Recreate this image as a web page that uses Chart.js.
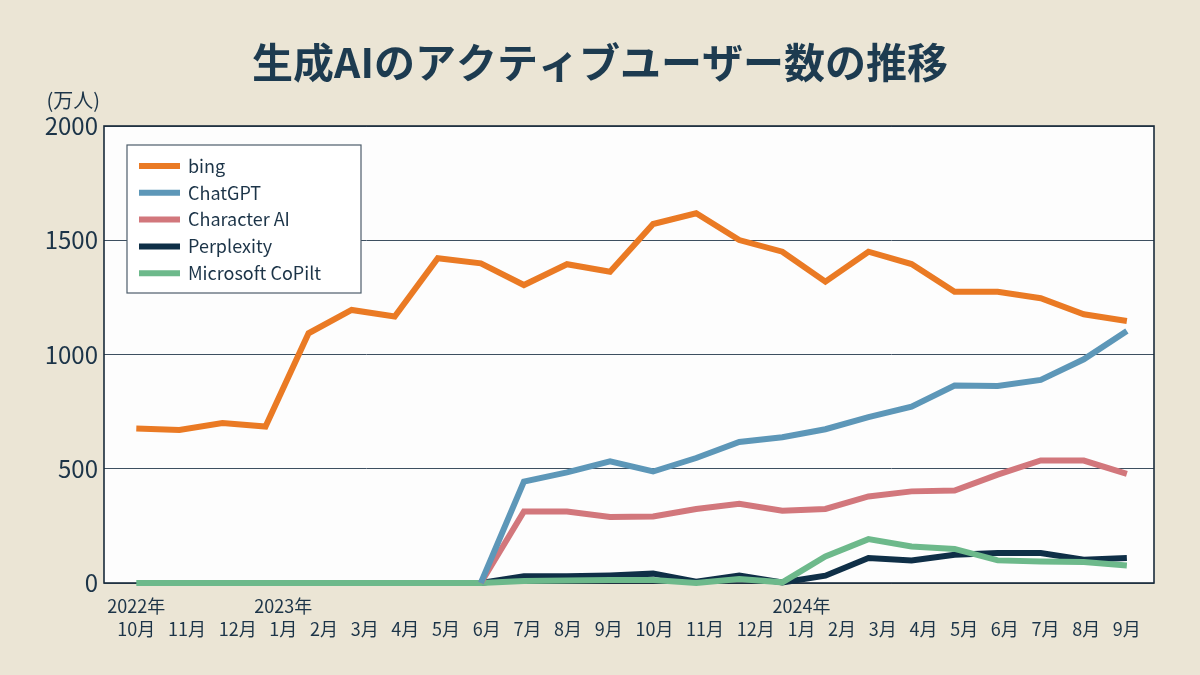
<!DOCTYPE html>
<html lang="ja">
<head>
<meta charset="utf-8">
<title>生成AIのアクティブユーザー数の推移</title>
<script src="https://cdn.jsdelivr.net/npm/chart.js@4.4.1/dist/chart.umd.min.js"></script>
<style>
    html, body { margin: 0; padding: 0; background: #ebe5d5; }
    #wrap { width: 1200px; height: 675px; position: relative; }
</style>
</head>
<body>
<div id="wrap"><canvas id="chart" width="1200" height="675"></canvas></div>
<script>
// Months from 2022/10 to 2024/9
const months = ['10月', '11月', '12月', '1月', '2月', '3月', '4月', '5月', '6月', '7月', '8月', '9月',
                '10月', '11月', '12月', '1月', '2月', '3月', '4月', '5月', '6月', '7月', '8月', '9月'];
const years = ['2022年', '', '', '2023年', '', '', '', '', '', '', '', '',
               '', '', '', '2024年', '', '', '', '', '', '', '', ''];

// Active users (万人)
const bing = [676, 670, 700, 685, 1093, 1195, 1166, 1421, 1399, 1304, 1395, 1362,
              1571, 1618, 1501, 1450, 1319, 1450, 1396, 1275, 1275, 1246, 1176, 1147];
const chatgpt = [null, null, null, null, null, null, null, null, 0, 444, 484, 532,
                 488, 547, 617, 638, 673, 726, 772, 864, 862, 889, 979, 1103];
const characterAi = [null, null, null, null, null, null, null, null, 0, 313, 313, 289,
                     291, 324, 347, 316, 324, 379, 401, 405, 474, 536, 536, 478];
const perplexity = [null, null, null, null, null, null, null, null, 0, 29, 29, 33,
                    41, 6, 33, 2, 32, 109, 99, 124, 131, 131, 102, 109];
const copilot = [0, 0, 0, 0, 0, 0, 0, 0, 0, 9, 11, 13,
                 13, 0, 17, 3, 116, 192, 160, 149, 99, 94, 92, 77];

const yTicks = [0, 500, 1000, 1500, 2000];

const FONT = "'Noto Sans CJK JP', 'Noto Sans', sans-serif";
const INK = '#1c3448';
const BG = '#ebe5d5';

const series = [
    { label: 'bing', data: bing, color: '#ea7a24', order: 1 },
    { label: 'ChatGPT', data: chatgpt, color: '#5d97b8', order: 2 },
    { label: 'Character AI', data: characterAi, color: '#d2777c', order: 3 },
    { label: 'Perplexity', data: perplexity, color: '#0f2f47', order: 5 },
    { label: 'Microsoft CoPilt', data: copilot, color: '#6db98b', order: 4 }
];

// Background, frame, title, x labels and legend
const decorPlugin = {
    id: 'decor',
    beforeDraw(chart) {
        const { ctx, chartArea: a } = chart;
        ctx.save();
        ctx.fillStyle = BG;
        ctx.fillRect(0, 0, chart.width, chart.height);
        ctx.fillStyle = '#fdfdfd';
        ctx.fillRect(a.left, a.top, a.right - a.left, a.bottom - a.top);
        ctx.restore();
    },
    beforeDatasetsDraw(chart) {
        const { ctx, chartArea: a } = chart;
        ctx.save();
        ctx.strokeStyle = '#1a2b3b';
        ctx.lineWidth = 1.6;
        ctx.strokeRect(a.left, a.top, a.right - a.left, a.bottom - a.top);
        ctx.restore();
    },
    afterDraw(chart) {
        const { ctx, chartArea: a } = chart;
        const x = chart.scales.x;
        ctx.save();

        // Title
        ctx.fillStyle = '#1d3b50';
        ctx.font = `bold 41px ${FONT}`;
        ctx.textAlign = 'center';
        ctx.textBaseline = 'middle';
        ctx.fillText('生成AIのアクティブユーザー数の推移', chart.width / 2, 62);

        // Unit
        ctx.fillStyle = INK;
        ctx.font = `20px ${FONT}`;
        ctx.textAlign = 'right';
        ctx.fillText('(万人)', a.left - 4, 100);

        // Month / year labels, laid out like a spaced text row
        ctx.font = `18px ${FONT}`;
        ctx.textAlign = 'center';
        const n = months.length;
        const widths = months.map(m => ctx.measureText(m).width);
        const first = x.getPixelForValue(0);
        const last = x.getPixelForValue(n - 1);
        const total = widths.reduce((s, w) => s + w, 0);
        const span = (last + widths[n - 1] / 2) - (first - widths[0] / 2);
        const gap = (span - total) / (n - 1);
        let cursor = first - widths[0] / 2;
        months.forEach((m, i) => {
            const cx = cursor + widths[i] / 2;
            ctx.fillText(m, cx, a.bottom + 46);
            if (years[i]) {
                ctx.fillText(years[i], cx, a.bottom + 23);
            }
            cursor += widths[i] + gap;
        });

        // Legend box
        const bx = a.left + 23, by = a.top + 19, bw = 234, bh = 148;
        ctx.fillStyle = '#ffffff';
        ctx.fillRect(bx, by, bw, bh);
        ctx.strokeStyle = '#4d5d6b';
        ctx.lineWidth = 1.2;
        ctx.strokeRect(bx, by, bw, bh);
        ctx.font = `18px ${FONT}`;
        ctx.textAlign = 'left';
        chart.data.datasets.forEach((ds, i) => {
            const ry = by + 21 + i * 26.8;
            ctx.strokeStyle = ds.borderColor;
            ctx.lineWidth = 6;
            ctx.beginPath();
            ctx.moveTo(bx + 12, ry);
            ctx.lineTo(bx + 53, ry);
            ctx.stroke();
            ctx.fillStyle = INK;
            ctx.fillText(ds.label, bx + 61, ry);
        });
        ctx.restore();
    }
};

const ctx = document.getElementById('chart').getContext('2d');
new Chart(ctx, {
    type: 'line',
    data: {
        datasets: series.map(s => ({
            label: s.label,
            data: s.data.map((v, i) => ({ x: i, y: v })),
            borderColor: s.color,
            backgroundColor: s.color,
            borderWidth: 6,
            pointRadius: 0,
            tension: 0,
            order: s.order,
            clip: 8
        }))
    },
    options: {
        responsive: false,
        animation: false,
        layout: { padding: { top: 126, right: 46, bottom: 0, left: 0 } },
        scales: {
            x: {
                type: 'linear',
                min: -0.75,
                max: 23.63,
                grid: { display: false, drawTicks: false },
                border: { display: false },
                ticks: { display: false },
                afterFit(scale) { scale.height = 92; }
            },
            y: {
                min: 0,
                max: 2000,
                afterBuildTicks(scale) { scale.ticks = yTicks.map(v => ({ value: v })); },
                grid: { color: '#3d4f60', lineWidth: 1, drawTicks: false },
                border: { display: false },
                ticks: {
                    color: INK,
                    padding: 6,
                    font: { family: FONT, size: 24 },
                    callback: v => String(v)
                },
                afterFit(scale) { scale.width = 104; }
            }
        },
        plugins: {
            legend: { display: false },
            title: { display: false },
            tooltip: { enabled: false }
        }
    },
    plugins: [decorPlugin]
});
</script>
</body>
</html>
